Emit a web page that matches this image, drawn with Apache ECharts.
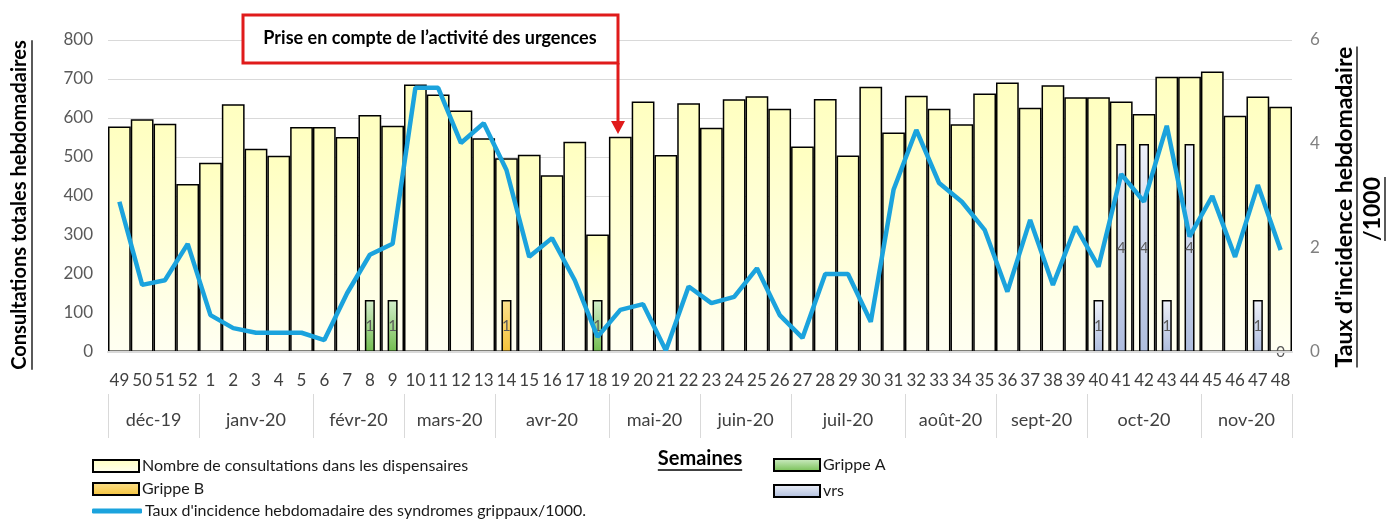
<!DOCTYPE html>
<html lang="fr">
<head>
<meta charset="UTF-8">
<title>Consultations hebdomadaires</title>
<script src="https://cdn.jsdelivr.net/npm/echarts@6/dist/echarts.min.js"></script>
<style>
    html, body { margin: 0; padding: 0; background: #fff; }
    #main { width: 1386px; height: 526px; }
</style>
</head>
<body>
<div id="main"></div>
<script type="text/javascript">
    // semaines 49-52 de 2019 puis 1-48 de 2020
    var weeks = ['49','50','51','52','1','2','3','4','5','6','7','8','9','10','11','12','13',
        '14','15','16','17','18','19','20','21','22','23','24','25','26','27','28','29','30',
        '31','32','33','34','35','36','37','38','39','40','41','42','43','44','45','46','47','48'];

    var consultations = [578,597,585,431,485,635,521,503,577,577,551,608,580,686,660,619,548,
        497,506,453,539,301,552,642,505,638,575,648,656,624,527,649,504,680,
        563,657,624,584,663,691,626,684,653,653,642,610,706,706,719,606,655,629];

    var tauxIncidence = [2.89,1.29,1.38,2.08,0.71,0.46,0.37,0.37,0.37,0.23,1.13,1.87,2.08,5.08,5.08,4.02,4.40,
        3.50,1.83,2.19,1.38,0.29,0.81,0.92,0.03,1.26,0.94,1.06,1.61,0.71,0.27,1.50,1.50,0.58,
        3.12,4.27,3.25,2.89,2.35,1.16,2.54,1.29,2.41,1.64,3.42,2.89,4.35,2.22,3.00,1.83,3.21,1.96];

    // prélèvements positifs (semaine -> nombre)
    var grippeAWeeks = ['8','9','18'];
    var grippeAValues = [1,1,1];
    var grippeBWeeks = ['14'];
    var grippeBValues = [1];
    var vrsWeeks = ['40','41','42','43','44','47','48'];
    var vrsValues = [1,4,4,1,4,1,0];

    var months = ['déc-19','janv-20','févr-20','mars-20','avr-20','mai-20','juin-20',
        'juil-20','août-20','sept-20','oct-20','nov-20'];
    var monthWeeks = [4,5,4,4,5,4,4,5,4,4,5,4];

    var leftTicks = [0,100,200,300,400,500,600,700,800];
    var rightTicks = [0,2,4,6];

    var FONT = 'Lato';
    var NAME_CONS = 'Nombre de consultations dans les dispensaires';
    var NAME_TAUX = "Taux d'incidence hebdomadaire des syndromes grippaux/1000.";

    function toSeries(wk, vals) {
        var out = weeks.map(function () { return '-'; });
        wk.forEach(function (w, i) {
            var idx = weeks.indexOf(w);
            out[idx] = vals[i] === 0 ? {value: 0, itemStyle: {borderWidth: 0}} : vals[i];
        });
        return out;
    }

    // limites et centres des mois
    var monthStart = {}, monthCenter = {};
    var acc = 0;
    monthWeeks.forEach(function (n, i) {
        monthStart[acc] = true;
        monthCenter[acc + n / 2] = months[i];
        acc += n;
    });

    function vgrad(c1, c2) {
        return new echarts.graphic.LinearGradient(0, 0, 0, 1, [
            {offset: 0, color: c1}, {offset: 1, color: c2}
        ]);
    }

    function textWidth(str, font) {
        var ctx = document.createElement('canvas').getContext('2d');
        ctx.font = font;
        return ctx.measureText(str).width;
    }

    // taille de police pour qu'un titre fasse une longueur donnée
    function fitFont(str, len) {
        var s = Math.round(18 * len / textWidth(str, 'bold 18px ' + FONT));
        return 'bold ' + s + 'px ' + FONT;
    }

    var myChart = echarts.init(document.getElementById('main'));

    var T_LEFT = 'Consultations totales hebdomadaires';
    var T_RIGHT = "Taux d'incidence hebdomadaire";
    var fLeft = fitFont(T_LEFT, 322);
    var fRight = fitFont(T_RIGHT, 316);
    var wLeft = textWidth(T_LEFT, fLeft);
    var wRight = textWidth(T_RIGHT, fRight);
    var wRight2 = textWidth('/1000', fRight);
    var fSem = 'bold 20px ' + FONT;
    var wSem = textWidth('Semaines', fSem);

    function legendRow(name, left, top, icon, w, h) {
        return {
            data: [{name: name, icon: icon}],
            left: left, top: top, padding: 0,
            itemWidth: w || 46, itemHeight: h || 12,
            selectedMode: false,
            textStyle: {fontSize: 16, color: '#1a1a1a', lineHeight: 16, padding: [0, 0, 0, -2]}
        };
    }

    var option = {
        animation: false,
        textStyle: {fontFamily: FONT},
        grid: {left: 108, right: 94, top: 40, bottom: 174},
        legend: [
            legendRow(NAME_CONS, 92, 458, 'rect'),
            legendRow('Grippe B', 92, 481, 'rect'),
            legendRow(NAME_TAUX, 92, 503, 'roundRect', 50, 5),
            legendRow('Grippe A', 773, 457, 'rect'),
            legendRow('vrs', 773, 483, 'rect')
        ],
        xAxis: [
            {
                type: 'category', data: weeks, position: 'bottom', z: 10,
                axisLine: {lineStyle: {color: '#d9d9d9', width: 2}},
                axisTick: {interval: 0, length: 42, lineStyle: {color: '#d9d9d9'}},
                axisLabel: {interval: 0, margin: 20, fontSize: 17, color: '#404040'}
            },
            {
                type: 'category', data: weeks, position: 'bottom', show: false
            },
            {
                // séparateurs des mois
                type: 'category', data: weeks, position: 'bottom', offset: 42,
                axisLine: {show: false},
                axisLabel: {show: false},
                axisTick: {
                    show: true, length: 44, lineStyle: {color: '#d9d9d9'},
                    interval: function (i) { return !!monthStart[i]; }
                }
            },
            {
                // libellés des mois
                type: 'value', min: 0, max: 52, interval: 0.5, position: 'bottom', offset: 42,
                axisLine: {show: false}, axisTick: {show: false}, splitLine: {show: false},
                axisLabel: {
                    margin: 17, fontSize: 18, color: '#404040',
                    formatter: function (v) { return monthCenter[v] || ''; }
                }
            }
        ],
        yAxis: [
            {
                type: 'value', min: leftTicks[0], max: leftTicks[leftTicks.length - 1], interval: 100,
                axisLine: {show: false}, axisTick: {show: false},
                axisLabel: {margin: 15, fontSize: 17, color: '#595959'},
                splitLine: {lineStyle: {color: '#d9d9d9'}}
            },
            {
                type: 'value', position: 'right',
                min: rightTicks[0], max: rightTicks[rightTicks.length - 1], interval: 2,
                axisLine: {show: false}, axisTick: {show: false},
                axisLabel: {margin: 18, fontSize: 17, color: '#808080'},
                splitLine: {show: false}
            }
        ],
        series: [
            {
                name: NAME_CONS, type: 'bar', data: consultations,
                barCategoryGap: '0%',
                itemStyle: {color: vgrad('#ffffc0', '#fffff2'), borderColor: '#000', borderWidth: 1.5}
            },
            {
                name: 'Grippe A', type: 'bar', xAxisIndex: 1, yAxisIndex: 1, stack: 'flu',
                barWidth: 10, data: toSeries(grippeAWeeks, grippeAValues),
                itemStyle: {color: vgrad('#d3eecb', '#72bd4f'), borderColor: '#000', borderWidth: 1.5},
                label: {show: true, position: 'inside', color: '#595959', fontSize: 15}
            },
            {
                name: 'Grippe B', type: 'bar', xAxisIndex: 1, yAxisIndex: 1, stack: 'flu',
                barWidth: 10, data: toSeries(grippeBWeeks, grippeBValues),
                itemStyle: {color: vgrad('#fbe08e', '#f5c33b'), borderColor: '#000', borderWidth: 1.5},
                label: {show: true, position: 'inside', color: '#595959', fontSize: 15}
            },
            {
                name: 'vrs', type: 'bar', xAxisIndex: 1, yAxisIndex: 1, stack: 'flu',
                barWidth: 10, data: toSeries(vrsWeeks, vrsValues),
                itemStyle: {color: vgrad('#eef1f9', '#aebddd'), borderColor: '#000', borderWidth: 1.5},
                label: {show: true, position: 'inside', color: '#595959', fontSize: 15}
            },
            {
                name: NAME_TAUX, type: 'line', yAxisIndex: 1, data: tauxIncidence,
                symbol: 'none', z: 5,
                lineStyle: {color: '#1ba3dd', width: 4.5},
                itemStyle: {color: '#1ba3dd'}
            }
        ],
        graphic: [
            // titres des axes (soulignés)
            {type: 'text', x: 20, y: 205, rotation: Math.PI / 2,
                style: {text: T_LEFT, font: fLeft, fill: '#000', align: 'center', verticalAlign: 'middle'}},
            {type: 'line', shape: {x1: 32, y1: 205 - wLeft / 2, x2: 32, y2: 205 + wLeft / 2}, style: {stroke: '#000', lineWidth: 1.3}},
            {type: 'text', x: 1345, y: 207, rotation: Math.PI / 2,
                style: {text: T_RIGHT, font: fRight, fill: '#000', align: 'center', verticalAlign: 'middle'}},
            {type: 'line', shape: {x1: 1357, y1: 207 - wRight / 2, x2: 1357, y2: 207 + wRight / 2}, style: {stroke: '#000', lineWidth: 1.3}},
            {type: 'text', x: 1373, y: 209, rotation: Math.PI / 2,
                style: {text: '/1000', font: fRight, fill: '#000', align: 'center', verticalAlign: 'middle'}},
            {type: 'line', shape: {x1: 1385, y1: 209 - wRight2 / 2, x2: 1385, y2: 209 + wRight2 / 2}, style: {stroke: '#000', lineWidth: 1.3}},
            {type: 'text', x: 700, y: 459,
                style: {text: 'Semaines', font: fSem, fill: '#000', align: 'center', verticalAlign: 'middle'}},
            {type: 'line', shape: {x1: 700 - wSem / 2, y1: 470, x2: 700 + wSem / 2, y2: 470}, style: {stroke: '#000', lineWidth: 1.3}},
            // annotation
            {type: 'rect', z: 100, shape: {x: 243, y: 15, width: 375, height: 48},
                style: {fill: '#fff', stroke: '#e01b1b', lineWidth: 3}},
            {type: 'text', z: 101, x: 430, y: 38,
                style: {text: 'Prise en compte de l’activité des urgences', font: 'bold 18px ' + FONT, fill: '#000', align: 'center', verticalAlign: 'middle'}},
            {type: 'line', z: 100, shape: {x1: 618, y1: 63, x2: 618, y2: 124}, style: {stroke: '#e01b1b', lineWidth: 3}},
            {type: 'polygon', z: 100, shape: {points: [[611, 121], [625, 121], [618, 134]]}, style: {fill: '#e01b1b'}}
        ]
    };

    myChart.setOption(option);
</script>
</body>
</html>
